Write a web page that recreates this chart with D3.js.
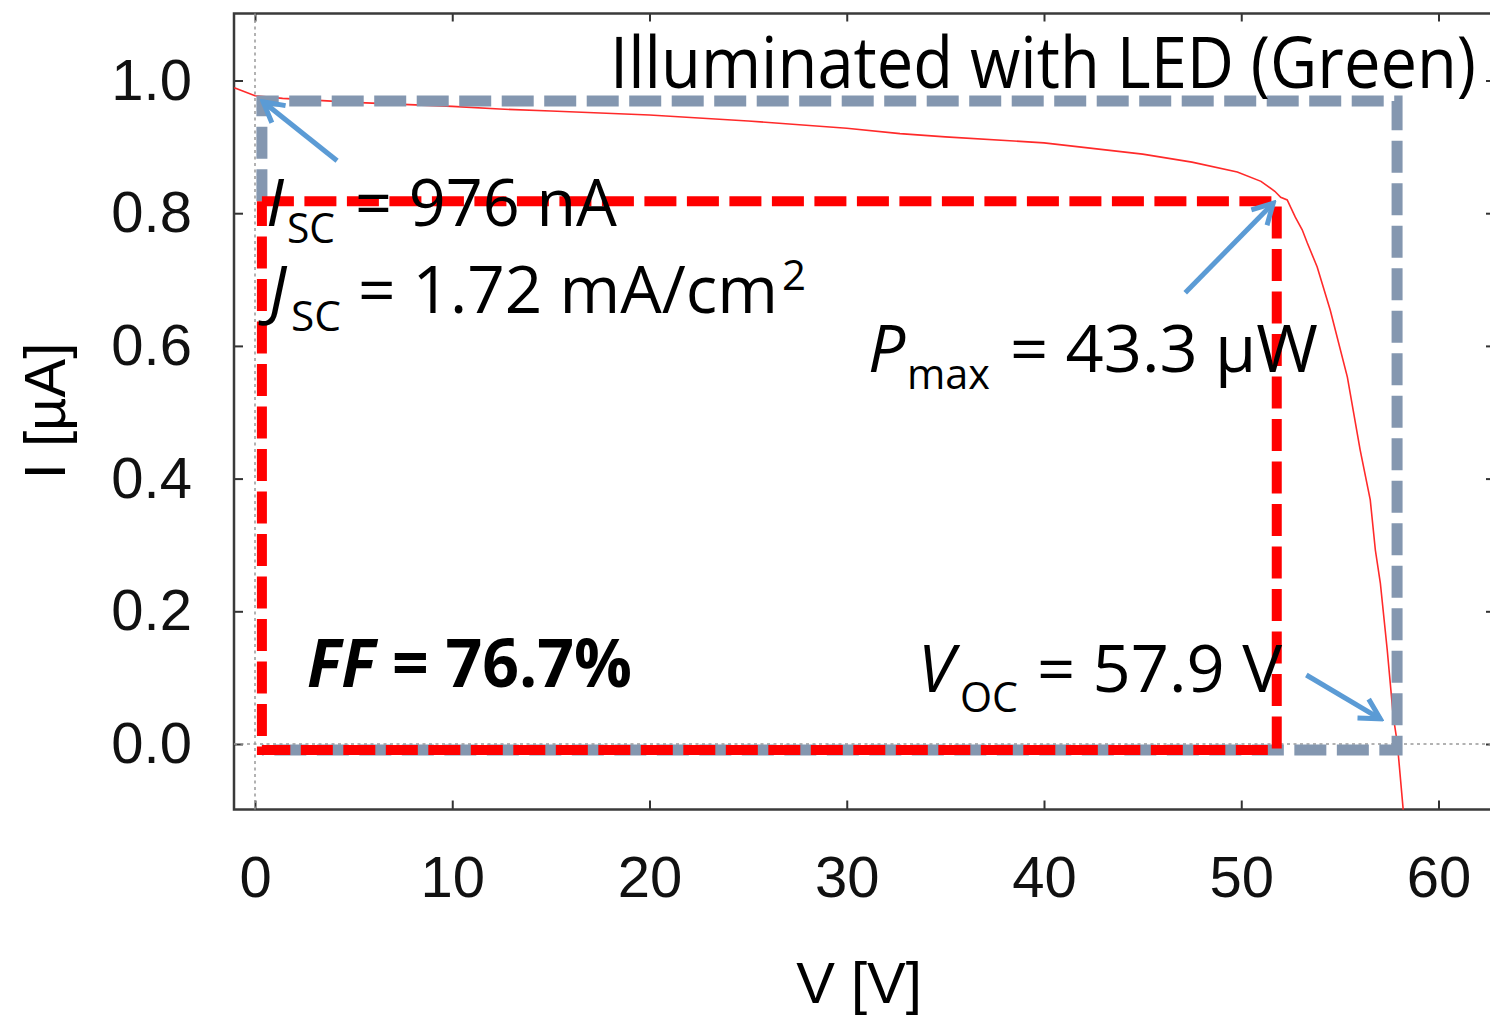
<!DOCTYPE html>
<meta charset="utf-8">
<html>
<head>
<script src="https://cdn.jsdelivr.net/npm/d3@7"></script>
<style>
body { margin: 0; background: #fff; }
.tick text { font-family: "Liberation Sans", Arial, sans-serif; font-size: 58px; fill: #111; }
.tick line { stroke: #333; stroke-width: 2; }
.note { font-family: "Open Sans", "Noto Sans", sans-serif; fill: #000; }
</style>
</head>
<body>
<div id="chart"></div>
<script>
// I-V curve (V in volts, I in microamps)
var voltage = [-1.05, 0, 1.4, 5, 10, 12.4, 15, 20, 25, 30, 32.7, 35, 40, 45, 47.5, 49.8, 51.0, 51.7, 52.0,
               52.33, 52.74, 53.09, 53.35, 53.85, 54.51, 55.38, 56.03, 56.54, 56.8, 57.05, 57.4, 57.71, 57.91, 58.21];
var current = [0.989, 0.977, 0.973, 0.967, 0.961, 0.957, 0.954, 0.948, 0.939, 0.928, 0.920, 0.915, 0.906, 0.889, 0.877, 0.862, 0.848, 0.833, 0.824,
               0.820, 0.794, 0.775, 0.755, 0.719, 0.654, 0.553, 0.443, 0.368, 0.292, 0.243, 0.142, 0.041, 0.002, -0.099];

var xTicks = [0, 10, 20, 30, 40, 50, 60];
var yTicks = [0, 0.2, 0.4, 0.6, 0.8, 1.0];

// annotation boxes (as drawn on the figure)
var boxLeftV = 0.35, boxBottomI = -0.009;
var iscBoxI = 0.969, vocBoxV = 57.9;     // gray box
var impBoxI = 0.818, vmpBoxV = 51.8;     // red box

// arrows: tail -> head, data coords
var arrowTails = [[4.16, 0.879], [47.16, 0.680], [53.3, 0.104]];
var arrowHeads = [[0.41, 0.968], [51.62, 0.815], [57.05, 0.038]];

var W = 1490, H = 1015;
var frame = {left: 234, right: 1493, top: 13.5, bottom: 809.5};

var svg = d3.select("#chart").append("svg")
    .attr("width", W).attr("height", H);

var x = d3.scaleLinear().domain([0, 60]).range([255, 1438.5]);
var y = d3.scaleLinear().domain([0, 1]).range([744, 80.5]);

// axes
svg.append("g").attr("transform", "translate(0," + frame.bottom + ")")
  .call(d3.axisBottom(x).tickValues(xTicks).tickSizeInner(-9).tickSizeOuter(0).tickPadding(46).tickFormat(d3.format("d")));
svg.append("g").attr("transform", "translate(" + frame.left + ",0)")
  .call(d3.axisLeft(y).tickValues(yTicks).tickSizeInner(-9).tickSizeOuter(0).tickPadding(42).tickFormat(d3.format(".1f")));
svg.append("g").attr("transform", "translate(0," + frame.top + ")")
  .call(d3.axisTop(x).tickValues(xTicks).tickSizeInner(-8).tickSizeOuter(0).tickFormat(""));
svg.append("g").attr("transform", "translate(" + frame.right + ",0)")
  .call(d3.axisRight(y).tickValues(yTicks).tickSizeInner(-7).tickSizeOuter(0).tickFormat(""));
svg.selectAll(".domain").remove();

// frame
svg.append("rect")
  .attr("x", frame.left).attr("y", frame.top)
  .attr("width", frame.right - frame.left).attr("height", frame.bottom - frame.top)
  .attr("fill", "none").attr("stroke", "#3a3a3a").attr("stroke-width", 2.5);

// dotted zero axes
svg.append("line")
  .attr("x1", x(0)).attr("x2", x(0)).attr("y1", frame.top).attr("y2", frame.bottom)
  .attr("stroke", "#999").attr("stroke-width", 1.5).attr("stroke-dasharray", "3,3.5");
svg.append("line")
  .attr("x1", frame.left).attr("x2", frame.right).attr("y1", y(0)).attr("y2", y(0))
  .attr("stroke", "#999").attr("stroke-width", 1.5).attr("stroke-dasharray", "3,3.5");

// axis titles
svg.append("text")
  .attr("x", 859).attr("y", 1003).attr("text-anchor", "middle")
  .style("font-family", "'Liberation Sans', Arial, sans-serif").style("font-size", "58px")
  .text("V [V]");
svg.append("text")
  .attr("transform", "translate(65,411) rotate(-90)").attr("text-anchor", "middle")
  .style("font-family", "'Liberation Sans', Arial, sans-serif").style("font-size", "58px")
  .text("I [µA]");

// I-V curve
var pts = voltage.map(function(v, i) { return [v, current[i]]; });
svg.append("path")
  .datum(pts)
  .attr("fill", "none")
  .attr("stroke", "#ff2a2a")
  .attr("stroke-width", 1.6)
  .attr("d", d3.line()
    .x(function(d) { return x(d[0]); })
    .y(function(d) { return y(d[1]); }));

// gray Isc/Voc box
var grayPts = [[boxLeftV, impBoxI], [boxLeftV, iscBoxI], [vocBoxV, iscBoxI], [vocBoxV, boxBottomI], [boxLeftV, boxBottomI]];
svg.append("path")
  .datum(grayPts)
  .attr("fill", "none").attr("stroke", "#8497b0").attr("stroke-width", 11)
  .attr("stroke-dasharray", "32,10.5")
  .attr("d", d3.line().x(function(d) { return x(d[0]); }).y(function(d) { return y(d[1]); }));

// red Pmax box
var redPts = [[boxLeftV, impBoxI], [vmpBoxV, impBoxI], [vmpBoxV, boxBottomI], [boxLeftV, boxBottomI], [boxLeftV, impBoxI]];
svg.append("path")
  .datum(redPts)
  .attr("fill", "none").attr("stroke", "#ff0000").attr("stroke-width", 10)
  .attr("stroke-dasharray", "32,10.5")
  .attr("d", d3.line().x(function(d) { return x(d[0]); }).y(function(d) { return y(d[1]); }));

// arrows
svg.append("defs").append("marker")
  .attr("id", "head")
  .attr("markerUnits", "userSpaceOnUse")
  .attr("viewBox", "-26 -15 30 30")
  .attr("markerWidth", 30).attr("markerHeight", 30)
  .attr("refX", 0).attr("refY", 0)
  .attr("orient", "auto")
  .append("path")
  .attr("d", "M-20,-11L0,0L-20,11")
  .attr("fill", "none").attr("stroke", "#5b9bd5").attr("stroke-width", 5);

arrowTails.forEach(function(t, i) {
  var h = arrowHeads[i];
  svg.append("line")
    .attr("x1", x(t[0])).attr("y1", y(t[1]))
    .attr("x2", x(h[0])).attr("y2", y(h[1]))
    .attr("stroke", "#5b9bd5").attr("stroke-width", 5)
    .attr("marker-end", "url(#head)");
});

// annotation text
function note(px, py, str, size, len, italic, bold) {
  var t = svg.append("text").attr("class", "note")
    .attr("x", px).attr("y", py)
    .style("font-size", size + "px")
    .text(str);
  if (len) t.attr("textLength", len).attr("lengthAdjust", "spacingAndGlyphs");
  if (italic) t.style("font-style", "italic");
  if (bold) t.style("font-weight", "bold");
  return t;
}

note(610, 88, "Illuminated with LED (Green)", 71, 866);

note(266, 226, "I", 66, null, true);
note(287, 243, "SC", 42, 48);
note(355, 226, "= 976 nA", 66, 262);

note(269, 313, "J", 66, null, true);
note(291, 331, "SC", 42, 50);
note(358, 313, "= 1.72 mA/cm", 66, 420);
note(782, 290, "2", 42);

note(868, 372, "P", 66, null, true);
note(907, 389, "max", 42, 83);
note(1010, 372, "= 43.3 µW", 66, 308);

note(918, 692, "V", 66, null, true);
note(960, 712, "OC", 42, 58);
note(1037, 692, "= 57.9 V", 66, 245);

var ff = svg.append("text").attr("class", "note")
  .attr("x", 307).attr("y", 687)
  .style("font-size", "66px").style("font-weight", "bold")
  .attr("textLength", 325).attr("lengthAdjust", "spacingAndGlyphs");
ff.append("tspan").style("font-style", "italic").text("FF");
ff.append("tspan").text(" = 76.7%");
</script>
</body>
</html>
